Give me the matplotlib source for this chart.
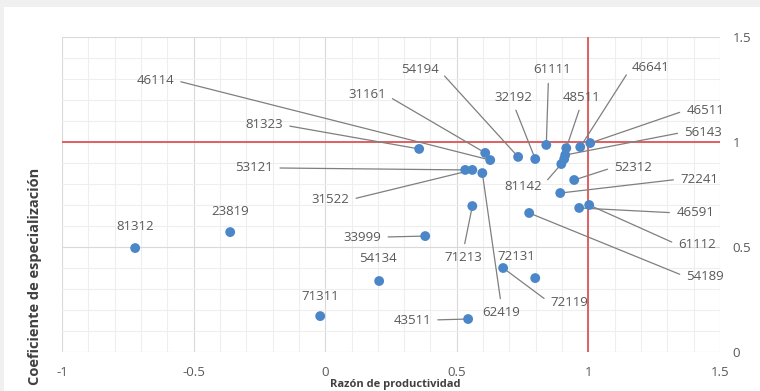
import matplotlib
matplotlib.use("Agg")
import matplotlib.pyplot as plt
from matplotlib.ticker import MultipleLocator
from matplotlib.patches import Rectangle

# ---- data ----
codes = ["81312", "23819", "71311", "54134", "72131", "33999", "43511", "71213",
         "62419", "72119", "54189", "61112", "46591", "72241", "52312", "56143",
         "46511", "46641", "48511", "61111", "32192", "54194", "31161", "46114",
         "81323", "53121", "31522", "81142", ""]
prod_ratio = [-0.722, -0.361, -0.019, 0.205, 0.798, 0.380, 0.543, 0.559,
              0.597, 0.676, 0.775, 1.003, 0.965, 0.893, 0.946, 0.912,
              1.007, 0.969, 0.916, 0.840, 0.798, 0.733, 0.608, 0.627,
              0.357, 0.532, 0.559, 0.897, 0.908]
spec_coef = [0.495, 0.571, 0.171, 0.338, 0.352, 0.552, 0.157, 0.695,
             0.852, 0.400, 0.662, 0.700, 0.686, 0.757, 0.819, 0.938,
             0.995, 0.976, 0.971, 0.986, 0.919, 0.929, 0.948, 0.914,
             0.967, 0.867, 0.867, 0.895, 0.919]
x_ticks = [-1, -0.5, 0, 0.5, 1, 1.5]
x_tick_labels = ["-1", "-0.5", "0", "0.5", "1", "1.5"]
y_ticks = [0, 0.5, 1, 1.5]
y_tick_labels = ["0", "0.5", "1", "1.5"]
x_title = "Razón de productividad"
y_title = "Coeficiente de especialización"

# ---- label layout (pixel offsets of label centre from its point, leader side) ----
# (dx, dy, relpos or None for no leader)
layout = {
    "81312": (0, 22, None), "23819": (0, 21, None), "71311": (0, 20, None),
    "54134": (-1, 23, None), "72131": (-19, 22, None),
    "33999": (-63, -1, (1, 0.5)), "43511": (-56, -1, (1, 0.5)),
    "71213": (-9, -51, (0.5, 1)), "62419": (19, -139, (0.5, 1)),
    "72119": (66, -35, (0, 0.5)), "54189": (176, -64, (0, 0.5)),
    "61112": (108, -40, (0, 0.5)), "46591": (116, -5, (0, 0.5)),
    "72241": (139, 14, (0, 0.5)), "52312": (59, 13, (0, 0.5)),
    "56143": (138, 23, (0, 0.5)), "46511": (115, 33, (0, 0.5)),
    "46641": (70, 80, (0, 0.5)), "48511": (15, 51, (0.5, 0)),
    "61111": (6, 75, (0.4, 0)), "32192": (-22, 62, (0.5, 0)),
    "54194": (-98, 87, (1, 0.5)), "31161": (-118, 58, (1, 0.5)),
    "46114": (-335, 80, (1, 0.5)), "81323": (-155, 24, (1, 0.5)),
    "53121": (-211, 2, (1, 0.5)), "31522": (-142, -30, (1, 0.5)),
    "81142": (-38, -22, (1, 0.5)),
}

plt.rcParams['font.family'] = ['Open Sans', 'DejaVu Sans']

fig = plt.figure(figsize=(7.6, 3.91), dpi=100)
fig.patch.set_facecolor("white")
# faint frame shadow at top / left
fig.patches.append(Rectangle((0, 1 - 7 / 391), 1, 7 / 391, transform=fig.transFigure,
                             facecolor="#f0f0f0", edgecolor="none", zorder=0))
fig.patches.append(Rectangle((0, 0), 4 / 760, 1, transform=fig.transFigure,
                             facecolor="#f0f0f0", edgecolor="none", zorder=0))

ax = fig.add_axes([62 / 760, 39 / 391, 658 / 760, 315 / 391])
ax.set_xlim(-1, 1.5)
ax.set_ylim(0, 1.5)

ax.xaxis.set_minor_locator(MultipleLocator(0.1))
ax.yaxis.set_minor_locator(MultipleLocator(0.1))
ax.grid(which="major", color="#d9d9d9", linewidth=0.8)
ax.grid(which="minor", color="#eeeeee", linewidth=0.8)
ax.set_axisbelow(True)
for s in ax.spines.values():
    s.set_visible(False)

ax.set_xticks(x_ticks)
ax.set_xticklabels(x_tick_labels)
ax.set_yticks(y_ticks)
ax.set_yticklabels(y_tick_labels)
ax.yaxis.tick_right()
ax.tick_params(which="both", length=0)
ax.tick_params(axis="x", pad=10, labelsize=9.5, labelcolor="#595959")
ax.tick_params(axis="y", pad=9, labelsize=9.5, labelcolor="#595959")

ax.axhline(1, color="#e06060", linewidth=1.4, zorder=2)
ax.axvline(1, color="#e06060", linewidth=1.4, zorder=2)

ax.scatter(prod_ratio, spec_coef, s=50, color="#4a86c8", zorder=5, edgecolors="none")

for code, xv, yv in zip(codes, prod_ratio, spec_coef):
    if not code:
        continue
    dx, dy, rel = layout[code]
    if rel is None:
        ax.annotate(code, (xv, yv), xytext=(dx, dy), textcoords="offset pixels",
                    ha="center", va="center", fontsize=9.5, color="#595959", zorder=6)
    else:
        ax.annotate(code, (xv, yv), xytext=(dx, dy), textcoords="offset pixels",
                    ha="center", va="center", fontsize=9.5, color="#595959", zorder=4,
                    arrowprops=dict(arrowstyle="-", color="#7f7f7f", lw=0.9,
                                    relpos=rel, shrinkA=3, shrinkB=0))

fig.text(395 / 760, 1 - 385 / 391, x_title, ha="center", va="center",
         fontsize=8, fontweight="bold", color="#404040")
fig.text(35 / 760, 1 - 276 / 391, y_title, ha="center", va="center", rotation=90,
         fontsize=10.5, fontweight="bold", color="#404040")

fig.savefig("out.png", dpi=100, facecolor=fig.get_facecolor())
